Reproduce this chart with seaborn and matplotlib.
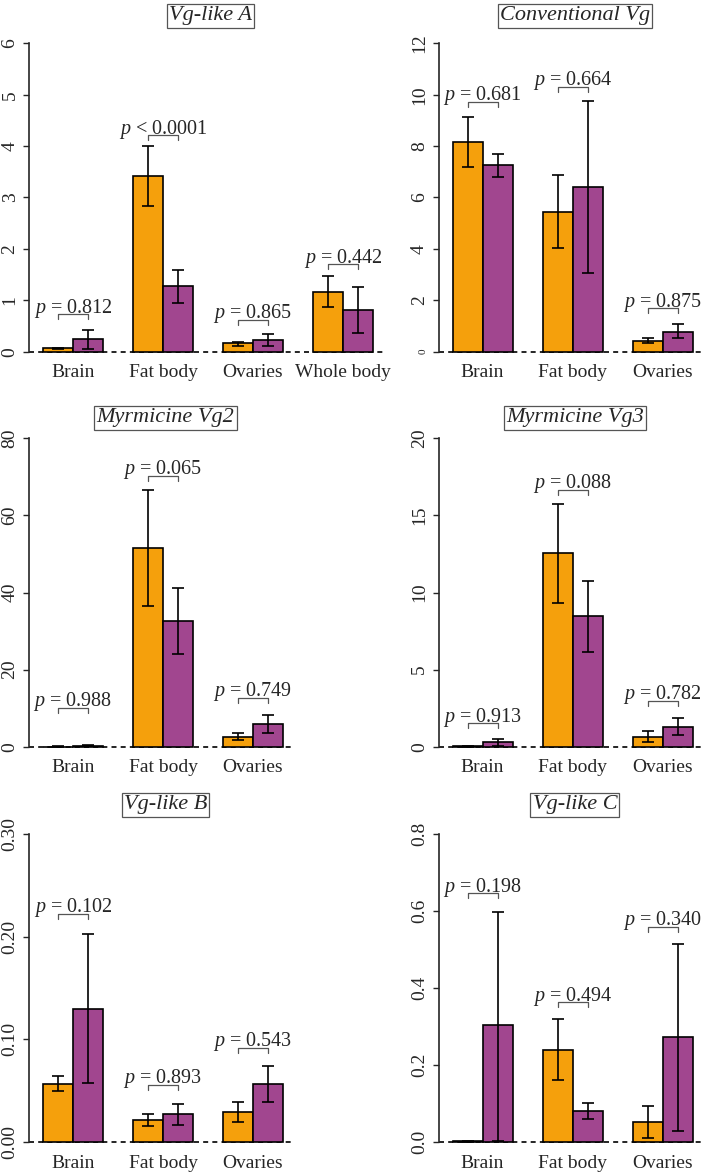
import numpy as np
import pandas as pd
import matplotlib
matplotlib.use("Agg")
import matplotlib.pyplot as plt
import seaborn as sns

# Style
sns.set_style("ticks")
plt.rcParams['font.family'] = ['Liberation Serif', 'DejaVu Serif']
plt.rcParams['mathtext.fontset'] = 'custom'
plt.rcParams['mathtext.it'] = 'Liberation Serif:italic'
plt.rcParams['mathtext.rm'] = 'Liberation Serif'

ORANGE = "#F5A00C"
PURPLE = "#A1468F"

# -----------------------------
# DATA
# -----------------------------
tissues4 = ["Brain", "Fat body", "Ovaries", "Whole body"]
tissues3 = ["Brain", "Fat body", "Ovaries"]

# Vg-like A
vgA_mean1 = [0.07, 3.42, 0.16, 1.17]
vgA_lo1 = [0.06, 2.83, 0.12, 0.86]
vgA_hi1 = [0.08, 4.01, 0.19, 1.47]
vgA_mean2 = [0.24, 1.28, 0.23, 0.81]
vgA_lo2 = [0.06, 0.95, 0.11, 0.37]
vgA_hi2 = [0.42, 1.59, 0.35, 1.25]
vgA_p = ["= 0.812", "< 0.0001", "= 0.865", "= 0.442"]
vgA_bracket = [0.73, 4.21, 0.62, 1.70]

# Conventional Vg
conv_mean1 = [8.17, 5.45, 0.43]
conv_lo1 = [7.20, 4.02, 0.35]
conv_hi1 = [9.12, 6.87, 0.52]
conv_mean2 = [7.26, 6.40, 0.78]
conv_lo2 = [6.79, 3.05, 0.52]
conv_hi2 = [7.69, 9.77, 1.07]
conv_p = ["= 0.681", "= 0.664", "= 0.875"]
conv_bracket = [9.73, 10.31, 1.69]

# Myrmicine Vg2
vg2_mean1 = [0.05, 51.5, 2.6]
vg2_lo1 = [0.0, 36.5, 1.7]
vg2_hi1 = [0.1, 66.6, 3.6]
vg2_mean2 = [0.3, 32.6, 5.9]
vg2_lo2 = [0.1, 24.0, 3.5]
vg2_hi2 = [0.5, 41.1, 8.2]
vg2_p = ["= 0.988", "= 0.065", "= 0.749"]
vg2_bracket = [10.0, 70.3, 12.6]

# Myrmicine Vg3
vg3_mean1 = [0.03, 12.54, 0.65]
vg3_lo1 = [0.01, 9.30, 0.32]
vg3_hi1 = [0.05, 15.74, 1.00]
vg3_mean2 = [0.28, 8.48, 1.30]
vg3_lo2 = [0.06, 6.14, 0.76]
vg3_hi2 = [0.50, 10.77, 1.86]
vg3_p = ["= 0.913", "= 0.088", "= 0.782"]
vg3_bracket = [1.52, 16.65, 2.96]

# Vg-like B
vgB_mean1 = [0.057, 0.0214, 0.0295]
vgB_lo1 = [0.050, 0.0156, 0.0198]
vgB_hi1 = [0.064, 0.0276, 0.0389]
vgB_mean2 = [0.130, 0.0276, 0.0567]
vgB_lo2 = [0.058, 0.0172, 0.0393]
vgB_hi2 = [0.203, 0.0376, 0.0739]
vgB_p = ["= 0.102", "= 0.893", "= 0.543"]
vgB_bracket = [0.222, 0.056, 0.0917]

# Vg-like C
vgC_mean1 = [0.002, 0.240, 0.052]
vgC_lo1 = [0.001, 0.162, 0.010]
vgC_hi1 = [0.003, 0.319, 0.095]
vgC_mean2 = [0.303, 0.082, 0.272]
vgC_lo2 = [0.004, 0.061, 0.029]
vgC_hi2 = [0.598, 0.102, 0.515]
vgC_p = ["= 0.198", "= 0.494", "= 0.340"]
vgC_bracket = [0.646, 0.363, 0.558]

# -----------------------------
# LAYOUT (pixels)
# -----------------------------
W, H = 704, 1174
UNIT = 90.0        # px per category
SPAN = 308.4       # px from 0 to ymax
fig = plt.figure(figsize=(W / 100, H / 100), dpi=100)


def make_axes(axis_x, ytop, y0, ncat):
    xmin = -0.489
    xmax = ncat - 1 + 0.45
    pad = 0.04 * SPAN
    left = axis_x / W
    width = (xmax - xmin) * UNIT / W
    bottom = 1 - (y0 + pad) / H
    height = (SPAN + 2 * pad) / H
    ax = fig.add_axes([left, bottom, width, height])
    return ax, (xmin, xmax)


def draw_panel(ax, xlim, title, title_dy, tissues, mean1, lo1, hi1, mean2, lo2, hi2,
               pvals, brackets, ymax, step, fmt, small_zero=False):
    n = len(tissues)
    df = pd.DataFrame({
        'tissue': tissues * 2,
        'group': ['a'] * n + ['b'] * n,
        'value': mean1 + mean2,
    })
    ax.axhline(0, color='black', lw=1.2, ls=(0, (3, 2.5)), zorder=0.5)
    sns.barplot(data=df, x='tissue', y='value', hue='group', order=tissues,
                palette=[ORANGE, PURPLE], saturation=1, width=2 / 3, errorbar=None,
                edgecolor='black', linewidth=1.2, legend=False, ax=ax, zorder=2)

    bars = sorted(ax.patches, key=lambda p: p.get_x())
    xs = np.array([p.get_x() + p.get_width() / 2 for p in bars])
    means = np.ravel(np.column_stack([mean1, mean2]))
    lows = np.ravel(np.column_stack([lo1, lo2]))
    highs = np.ravel(np.column_stack([hi1, hi2]))
    ax.errorbar(xs, means, yerr=[means - lows, highs - means], fmt='none',
                ecolor='black', elinewidth=1.2, capsize=4.5, capthick=1.2, zorder=3)

    # p-value brackets
    tick = 0.0165 * ymax
    for i in range(n):
        xa, xb = xs[2 * i], xs[2 * i + 1]
        b = brackets[i]
        ax.plot([xa, xa, xb, xb], [b - tick, b, b, b - tick],
                color='#555555', lw=0.9, zorder=4)
        ax.annotate("$p$ " + pvals[i], xy=((xa + xb) / 2, b), xytext=(0, 1.2),
                    textcoords='offset points', ha='center', va='baseline',
                    fontsize=14.5, zorder=5)

    ax.set_xlim(*xlim)
    ax.set_ylim(-0.04 * ymax, 1.04 * ymax)
    ticks = np.arange(0, ymax + step / 2, step)
    ax.set_yticks(ticks)
    ax.set_yticklabels([fmt.format(t) for t in ticks], rotation=90, va='center',
                       fontsize=14)
    if small_zero:
        ax.get_yticklabels()[0].set_fontsize(8)
    ax.tick_params(axis='y', length=4.5, width=1, pad=3)
    ax.tick_params(axis='x', length=0, pad=0, labelsize=14)
    ax.set_xlabel("")
    ax.set_ylabel("")
    for s in ['top', 'right', 'bottom']:
        ax.spines[s].set_visible(False)
    ax.spines['left'].set_bounds(0, ymax)
    ax.spines['left'].set_linewidth(1.2)
    ax.set_facecolor('none')

    ax.annotate(title, xy=(0.5, 1), xycoords='axes fraction', xytext=(3, title_dy),
                textcoords='offset points', ha='center', va='center',
                fontsize=16, fontstyle='italic',
                bbox=dict(boxstyle='square,pad=0.1', fc='white', ec='#555555', lw=0.9))


# -----------------------------
# PANELS
# -----------------------------
ax, xl = make_axes(29, 43.3, 351.7, 4)
draw_panel(ax, xl, "Vg-like A", 10.8, tissues4, vgA_mean1, vgA_lo1, vgA_hi1,
           vgA_mean2, vgA_lo2, vgA_hi2, vgA_p, vgA_bracket, 6, 1, "{:.0f}")

ax, xl = make_axes(438.5, 43.3, 351.7, 3)
draw_panel(ax, xl, "Conventional Vg", 10.8, tissues3, conv_mean1, conv_lo1, conv_hi1,
           conv_mean2, conv_lo2, conv_hi2, conv_p, conv_bracket, 12, 2, "{:.0f}",
           small_zero=True)

ax, xl = make_axes(29, 438.3, 746.7, 3)
draw_panel(ax, xl, "Myrmicine Vg2", 5.8, tissues3, vg2_mean1, vg2_lo1, vg2_hi1,
           vg2_mean2, vg2_lo2, vg2_hi2, vg2_p, vg2_bracket, 80, 20, "{:.0f}")

ax, xl = make_axes(438.5, 438.3, 746.7, 3)
draw_panel(ax, xl, "Myrmicine Vg3", 5.8, tissues3, vg3_mean1, vg3_lo1, vg3_hi1,
           vg3_mean2, vg3_lo2, vg3_hi2, vg3_p, vg3_bracket, 20, 5, "{:.0f}")

ax, xl = make_axes(29, 833.7, 1142.2, 3)
draw_panel(ax, xl, "Vg-like B", 11.9, tissues3, vgB_mean1, vgB_lo1, vgB_hi1,
           vgB_mean2, vgB_lo2, vgB_hi2, vgB_p, vgB_bracket, 0.30, 0.10, "{:.2f}")

ax, xl = make_axes(438.5, 833.7, 1142.2, 3)
draw_panel(ax, xl, "Vg-like C", 11.9, tissues3, vgC_mean1, vgC_lo1, vgC_hi1,
           vgC_mean2, vgC_lo2, vgC_hi2, vgC_p, vgC_bracket, 0.8, 0.2, "{:.1f}")

plt.savefig("out.png", dpi=100)
